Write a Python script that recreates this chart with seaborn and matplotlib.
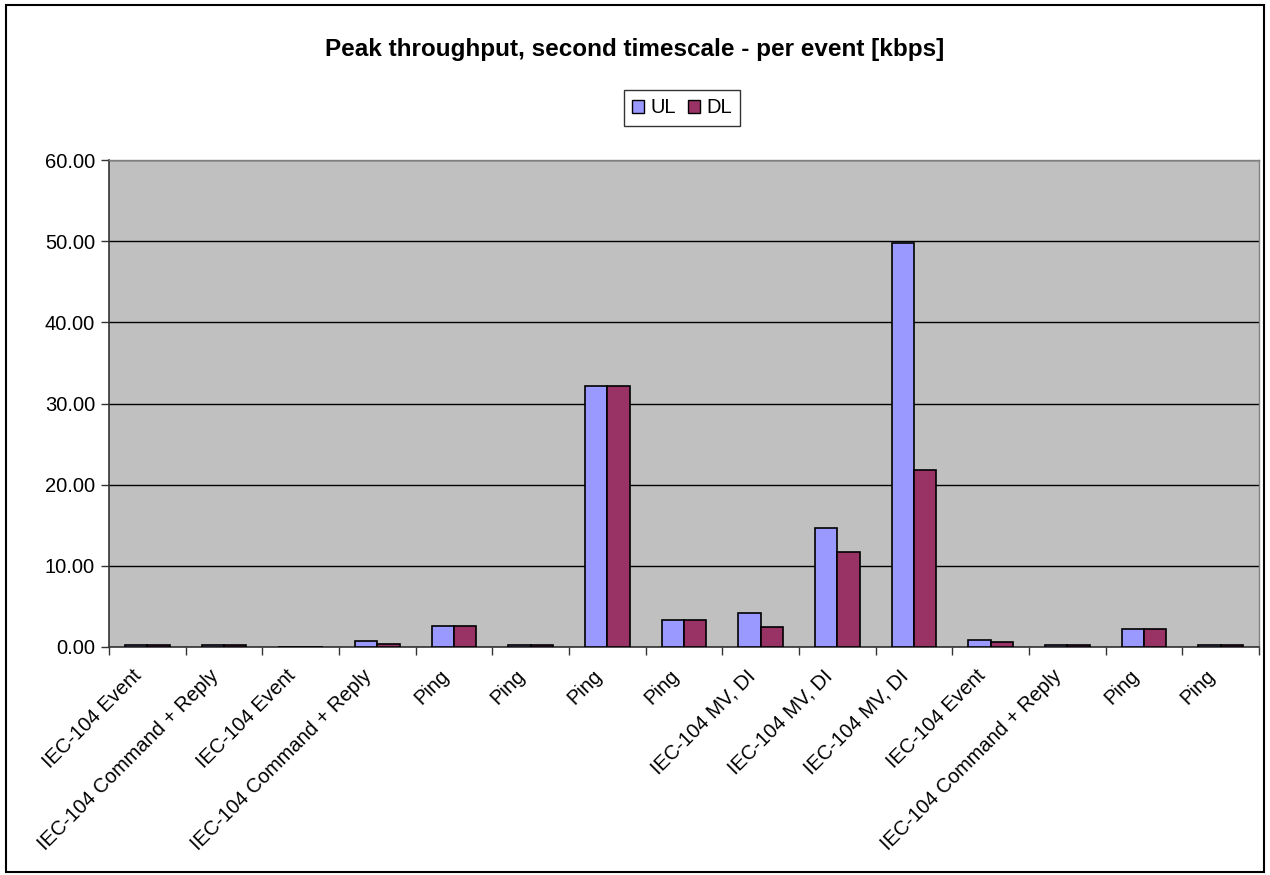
import matplotlib
matplotlib.use("Agg")
import matplotlib.pyplot as plt
from matplotlib.patches import Patch, Rectangle
from matplotlib.ticker import FixedLocator, FormatStrFormatter
from matplotlib.transforms import ScaledTranslation
import seaborn as sns
import pandas as pd
import numpy as np

events = [
    "IEC-104 Event", "IEC-104 Command + Reply", "IEC-104 Event",
    "IEC-104 Command + Reply", "Ping", "Ping", "Ping", "Ping",
    "IEC-104 MV, DI", "IEC-104 MV, DI", "IEC-104 MV, DI", "IEC-104 Event",
    "IEC-104 Command + Reply", "Ping", "Ping",
]
ul_kbps = [0.2, 0.2, 0.0, 0.7, 2.6, 0.2, 32.1, 3.3, 4.2, 14.6, 49.8, 0.9, 0.2, 2.2, 0.2]
dl_kbps = [0.2, 0.2, 0.0, 0.4, 2.6, 0.2, 32.1, 3.3, 2.4, 11.7, 21.8, 0.6, 0.2, 2.2, 0.2]
series = ["UL", "DL"]
colors = ["#9999FF", "#993366"]

n = len(events)
df = pd.DataFrame({
    "slot": list(range(n)) * 2,
    "kbps": ul_kbps + dl_kbps,
    "dir": ["UL"] * n + ["DL"] * n,
})

sns.set_style("white")
plt.rcParams["font.family"] = ["Liberation Sans", "DejaVu Sans"]
plt.rcParams["text.color"] = "black"
plt.rcParams["xtick.color"] = "black"
plt.rcParams["ytick.color"] = "black"
plt.rcParams["xtick.labelcolor"] = "black"
plt.rcParams["ytick.labelcolor"] = "black"

fig = plt.figure(figsize=(12.7, 8.75), dpi=100)
ax = fig.add_axes([0.0858, 0.2606, 0.9055, 0.5565])
ax.set_facecolor("#C0C0C0")

sns.barplot(data=df, x="slot", y="kbps", hue="dir", hue_order=series,
            palette=colors, width=0.58, edgecolor="black", linewidth=1.2,
            saturation=1, ax=ax, legend=False, zorder=3)

ax.set_xlim(-0.5, n - 0.5)
ax.set_ylim(0, 60)
ax.yaxis.set_major_locator(FixedLocator(np.arange(0, 61, 10)))
ax.yaxis.set_major_formatter(FormatStrFormatter("%.2f"))
ax.grid(axis="y", color="black", linewidth=1.0, zorder=1)
ax.set_axisbelow(True)

ax.xaxis.set_minor_locator(FixedLocator(np.arange(-0.5, n, 1.0)))
ax.tick_params(axis="x", which="major", length=0, pad=14, labelsize=14.5)
ax.tick_params(axis="x", which="minor", length=6, width=1, color="#333333",
               direction="out", bottom=True)
ax.tick_params(axis="y", length=6, width=1, color="#333333", direction="out",
               left=True, labelsize=14.5, pad=4)
ax.set_xlabel("")
ax.set_ylabel("")

# category labels, slanted and nudged left so they end just before each slot centre
ax.set_xticks(range(n))
ax.set_xticklabels(events, rotation=45, ha="right", rotation_mode="anchor")
shift = ScaledTranslation(-15 / 100, 0, fig.dpi_scale_trans)
for lbl in ax.get_xticklabels():
    lbl.set_transform(lbl.get_transform() + shift)

for side in ["left", "bottom"]:
    ax.spines[side].set_color("#333333")
    ax.spines[side].set_linewidth(1.2)
for side in ["top", "right"]:
    ax.spines[side].set_color("#808080")
    ax.spines[side].set_linewidth(1.0)

fig.text(0.5, 0.943, "Peak throughput, second timescale - per event [kbps]",
         ha="center", va="center", fontsize=17.5, fontweight="bold")

handles = [Patch(facecolor=c, edgecolor="black", linewidth=1.0, label=s)
           for c, s in zip(colors, series)]
leg = fig.legend(handles=handles, loc="center", bbox_to_anchor=(0.537, 0.8766),
                 ncol=2, fontsize=14.5, frameon=True, fancybox=False,
                 handlelength=0.6, handleheight=0.6, handletextpad=0.3,
                 columnspacing=0.6, borderpad=0.4, edgecolor="black")
leg.get_frame().set_linewidth(1.0)

fig.patches.append(Rectangle((0.005, 0.003), 0.99, 0.991, transform=fig.transFigure,
                             fill=False, edgecolor="black", linewidth=1.5))

fig.savefig("out.png", dpi=100)
